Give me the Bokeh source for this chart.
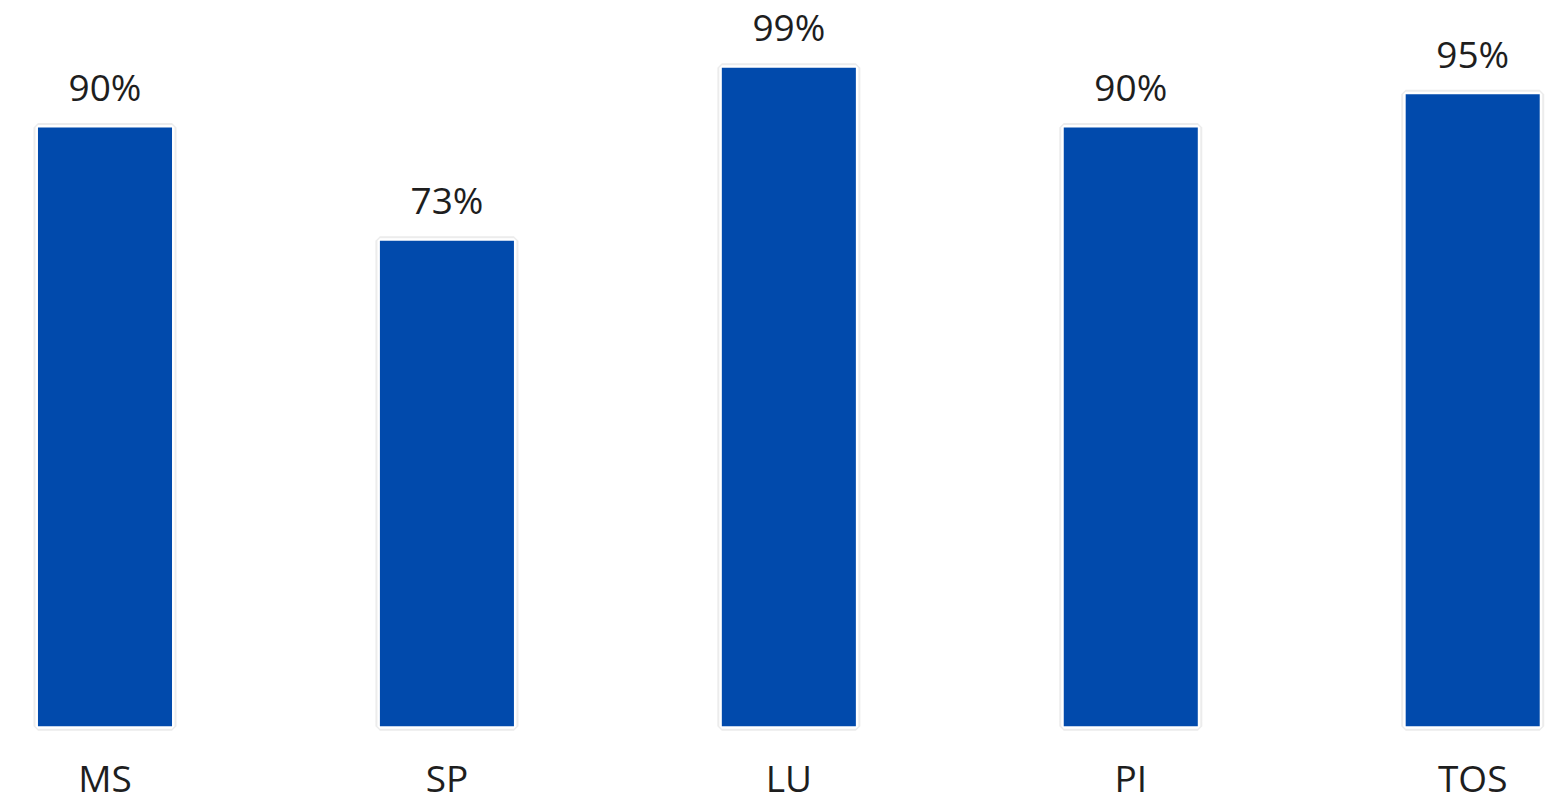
from bokeh.plotting import figure
from bokeh.models import ColumnDataSource, Range1d
from bokeh.core.properties import value
from bokeh.embed import file_html
from bokeh.resources import INLINE

# Share per area (percent)
categories = ["MS", "SP", "LU", "PI", "TOS"]
shares = [90, 73, 99, 90, 95]
share_labels = ["90%", "73%", "99%", "90%", "95%"]

positions = list(range(len(categories)))
src = ColumnDataSource(dict(x=positions, top=shares, lbl=share_labels,
                            cat=categories, base=[0] * len(categories)))

W, H = 1557, 803
p = figure(width=W, height=H, output_backend="svg", toolbar_location=None,
           x_range=Range1d(-0.3056, 4.248), y_range=Range1d(-11.62, 109.1),
           min_border=0, outline_line_color=None, background_fill_color="white",
           border_fill_color="white")
p.axis.visible = False
p.grid.visible = False

BAR_W = 0.392
BLUE = "#014AAC"

# soft shadow, white frame, then the blue bar
p.vbar(x="x", top="top", width=BAR_W, source=src, fill_color="#c8c8c8",
       fill_alpha=0.5, line_color="#c8c8c8", line_alpha=0.35, line_width=9)
p.vbar(x="x", top="top", width=BAR_W, source=src, fill_color="white",
       line_color="white", line_width=5)
p.vbar(x="x", top="top", width=BAR_W, source=src, fill_color=BLUE,
       line_color=None)

FONT = value("Open Sans")

# value labels above each bar
p.text(x="x", y="top", text="lbl", source=src, text_font=FONT,
       text_font_size="37px", text_color="#1e1e1e", text_align="center",
       text_baseline="alphabetic", y_offset=-41)

# category names under the bars
p.text(x="x", y="base", text="cat", source=src, text_font=FONT,
       text_font_size="37px", text_color="#1e1e1e", text_align="center",
       text_baseline="alphabetic", y_offset=51)

open("out.html", "w").write(file_html(p, INLINE))
